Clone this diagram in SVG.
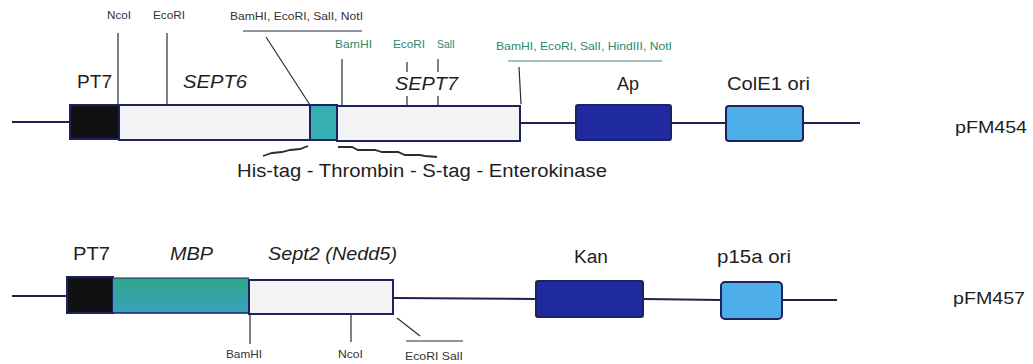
<svg xmlns="http://www.w3.org/2000/svg" width="1033" height="364" viewBox="0 0 1033 364">
<defs>
<linearGradient id="mbp" x1="0" y1="0" x2="0" y2="1">
<stop offset="0" stop-color="#2fa888"/>
<stop offset="1" stop-color="#3a9fc0"/>
</linearGradient>
<style>
text{font-family:"Liberation Sans",Arial,sans-serif;fill:#1e1e1e}
.big{font-size:18px}
.it{font-style:italic}
.sm{font-size:10.5px;fill:#333}
.gr{font-size:10.5px;fill:#2a8a6c}
.bb{stroke:#1c2150;stroke-width:2;fill:none}
.ln{stroke:#2a2a3a;stroke-width:1.2;fill:none}
.br{stroke:#2a2a3a;stroke-width:1.8;fill:none}
.gln{stroke:#4a8a78;stroke-width:1.2;fill:none}
.box{stroke:#1c2160;stroke-width:2}
</style>
</defs>
<rect width="1033" height="364" fill="#fff"/>

<g id="connectors">
<line class="bb" x1="12" y1="122" x2="70" y2="122"/>
<line class="bb" x1="520" y1="123" x2="576" y2="123"/>
<line class="bb" x1="671" y1="123" x2="726" y2="123"/>
<line class="bb" x1="803" y1="123" x2="860" y2="123"/>
<line class="bb" x1="12" y1="296" x2="67" y2="296"/>
<line class="bb" x1="394" y1="298" x2="536" y2="299"/>
<line class="bb" x1="643" y1="299" x2="721" y2="300"/>
<line class="bb" x1="782" y1="300" x2="837" y2="300"/>
<line class="ln" x1="118" y1="33" x2="118" y2="105"/>
<line class="ln" x1="167" y1="33" x2="167" y2="105"/>
<line class="ln" x1="243" y1="31" x2="362" y2="31"/>
<line class="ln" x1="266" y1="37" x2="310" y2="105"/>
<line class="ln" x1="342" y1="59" x2="342" y2="106"/>
<line class="ln" x1="407" y1="62" x2="407" y2="72"/>
<line class="ln" x1="407" y1="96" x2="407" y2="106"/>
<line class="ln" x1="438" y1="59" x2="438" y2="72"/>
<line class="ln" x1="438" y1="96" x2="438" y2="106"/>
<line class="gln" x1="508" y1="61" x2="662" y2="61"/>
<line class="ln" x1="519" y1="67" x2="521" y2="104"/>
<polyline class="br" points="263,156 272,153 282,152 290,150 300,149 308,146"/>
<polyline class="br" points="338,147 352,147 358,150 375,150 382,152 398,152 405,155 420,155 425,156 437,157"/>
<line class="ln" x1="250" y1="314" x2="250" y2="344"/>
<line class="ln" x1="351" y1="314" x2="351" y2="342"/>
<line class="ln" x1="397" y1="318" x2="420" y2="336"/>
<line class="ln" x1="406" y1="341" x2="463" y2="341"/>
</g>

<g id="pFM454">
<g id="t-pt7">
<rect class="box" x="70" y="105" width="49" height="34" fill="#111"/>
<text class="big" x="77" y="88" textLength="35" lengthAdjust="spacingAndGlyphs">PT7</text>
</g>
<g id="t-sept6">
<rect class="box" x="119" y="105" width="191" height="35" fill="#f4f4f4"/>
<text class="big it" x="183" y="88" textLength="64" lengthAdjust="spacingAndGlyphs">SEPT6</text>
</g>
<g id="t-tag">
<rect class="box" x="310" y="105" width="27" height="35" fill="#38b0b2"/>
</g>
<g id="t-sept7">
<rect class="box" x="337" y="106" width="183" height="35" fill="#f4f4f4"/>
<text class="big it" x="395" y="90" textLength="63" lengthAdjust="spacingAndGlyphs">SEPT7</text>
</g>
<g id="t-ap">
<rect class="box" x="576" y="105" width="95" height="35" rx="2" fill="#1f2a9e"/>
<text class="big" x="628" y="90" text-anchor="middle">Ap</text>
</g>
<g id="t-cole1">
<rect class="box" x="726" y="106" width="77" height="35" rx="3" fill="#4daee8"/>
<text class="big" x="727" y="90" textLength="83" lengthAdjust="spacingAndGlyphs">ColE1 ori</text>
</g>
<g id="t-labels">
<text class="sm" x="107" y="19" textLength="24" lengthAdjust="spacingAndGlyphs">NcoI</text>
<text class="sm" x="153" y="19" textLength="32" lengthAdjust="spacingAndGlyphs">EcoRI</text>
<text class="sm" x="230" y="20" textLength="133" lengthAdjust="spacingAndGlyphs">BamHI, EcoRI, SalI, NotI</text>
<text class="gr" x="335" y="48" textLength="37" lengthAdjust="spacingAndGlyphs">BamHI</text>
<text class="gr" x="393" y="48" textLength="32" lengthAdjust="spacingAndGlyphs">EcoRI</text>
<text class="gr" x="437" y="48" textLength="18" lengthAdjust="spacingAndGlyphs">SalI</text>
<text class="gr" x="496" y="50" textLength="176" lengthAdjust="spacingAndGlyphs">BamHI, EcoRI, SalI, HindIII, NotI</text>
<text class="big" x="237" y="177" textLength="370" lengthAdjust="spacingAndGlyphs">His-tag - Thrombin - S-tag - Enterokinase</text>
<text x="955" y="133" font-size="16" textLength="72" lengthAdjust="spacingAndGlyphs">pFM454</text>
</g>
</g>

<g id="pFM457">
<g id="b-pt7">
<rect class="box" x="67" y="277" width="46" height="36" fill="#111"/>
<text class="big" x="73" y="260" textLength="37" lengthAdjust="spacingAndGlyphs">PT7</text>
</g>
<g id="b-mbp">
<rect x="113" y="278" width="136" height="35" fill="url(#mbp)"/>
<line x1="113" y1="278" x2="249" y2="278" stroke="#1c2160" stroke-width="1"/>
<line x1="113" y1="313" x2="249" y2="313" stroke="#1c2160" stroke-width="1.5"/>
<text class="big it" x="170" y="260" textLength="43" lengthAdjust="spacingAndGlyphs">MBP</text>
</g>
<g id="b-sept2">
<rect class="box" x="249" y="280" width="144" height="34" fill="#f4f4f4"/>
<text class="big it" x="268" y="260" textLength="129" lengthAdjust="spacingAndGlyphs">Sept2 (Nedd5)</text>
</g>
<g id="b-kan">
<rect class="box" x="536" y="281" width="107" height="36" rx="2" fill="#1f2a9e"/>
<text class="big" x="574" y="263" textLength="34" lengthAdjust="spacingAndGlyphs">Kan</text>
</g>
<g id="b-p15a">
<rect class="box" x="721" y="282" width="61" height="37" rx="4" fill="#4daee8"/>
<text class="big" x="717" y="263" textLength="74" lengthAdjust="spacingAndGlyphs">p15a ori</text>
</g>
<g id="b-labels">
<text class="sm" x="226" y="358" textLength="36" lengthAdjust="spacingAndGlyphs">BamHI</text>
<text class="sm" x="338" y="358" textLength="25" lengthAdjust="spacingAndGlyphs">NcoI</text>
<text class="sm" x="405" y="360" textLength="58" lengthAdjust="spacingAndGlyphs">EcoRI  SalI</text>
<text x="953" y="304" font-size="16" textLength="72" lengthAdjust="spacingAndGlyphs">pFM457</text>
</g>
</g>
</svg>
